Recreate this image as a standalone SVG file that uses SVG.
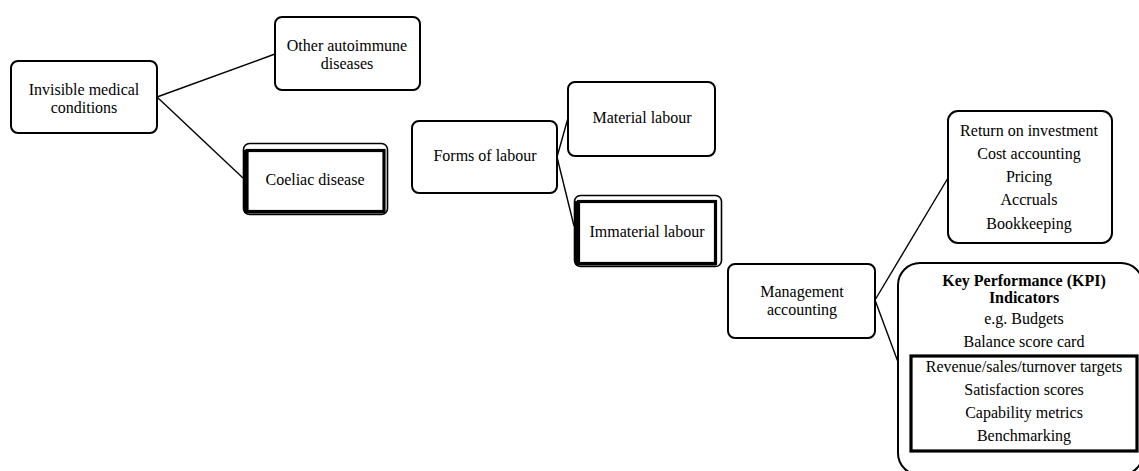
<svg xmlns="http://www.w3.org/2000/svg" width="1139" height="471" viewBox="0 0 1139 471" font-family="Liberation Serif, Times New Roman, serif" font-size="16">
  <style>
    .box { fill: #fff; stroke: #000; stroke-width: 2; }
    .outer { fill: #fff; stroke: #000; stroke-width: 1.6; }
    .inner { fill: none; stroke: #000; stroke-width: 3.2; }
    text { fill: #000; text-anchor: middle; }
    .bold { font-weight: bold; }
    .conn line { stroke: #000; stroke-width: 1.4; }
  </style>

  <!-- connectors -->
  <g id="connectors" class="conn">
    <line x1="157" y1="97" x2="275" y2="54"/>
    <line x1="157" y1="97" x2="243" y2="178"/>
    <line x1="557" y1="157" x2="568" y2="118"/>
    <line x1="557" y1="157" x2="574" y2="226"/>
    <line x1="875" y1="300" x2="948" y2="178"/>
    <line x1="875" y1="300" x2="898" y2="362"/>
  </g>

  <!-- first cluster -->
  <g id="invisible-medical">
    <rect class="box" x="11" y="61" width="146" height="72" rx="7"/>
    <text x="84" y="95">Invisible medical</text>
    <text x="84" y="113">conditions</text>
  </g>
  <g id="other-autoimmune">
    <rect class="box" x="275" y="17" width="145" height="73" rx="7"/>
    <text x="347" y="51">Other autoimmune</text>
    <text x="347" y="69">diseases</text>
  </g>
  <g id="coeliac">
    <rect class="outer" x="243.5" y="143.5" width="144" height="71" rx="6"/>
    <rect class="inner" x="247" y="150.5" width="137" height="61"/>
    <line x1="245.5" y1="150" x2="245.5" y2="213" stroke="#000" stroke-width="3"/>
    <line x1="245" y1="212.5" x2="384" y2="212.5" stroke="#000" stroke-width="2"/>
    <text x="315" y="185">Coeliac disease</text>
  </g>

  <!-- second cluster -->
  <g id="forms-of-labour">
    <rect class="box" x="412" y="121" width="145" height="72" rx="7"/>
    <text x="485" y="161">Forms of labour</text>
  </g>
  <g id="material-labour">
    <rect class="box" x="568" y="82" width="147" height="74" rx="7"/>
    <text x="642" y="123">Material labour</text>
  </g>
  <g id="immaterial-labour">
    <rect class="outer" x="574.5" y="195.5" width="147" height="71" rx="6"/>
    <rect class="inner" x="578.5" y="201.5" width="137" height="62"/>
    <line x1="576.5" y1="201" x2="576.5" y2="265" stroke="#000" stroke-width="3"/>
    <line x1="576" y1="264.5" x2="716" y2="264.5" stroke="#000" stroke-width="2"/>
    <text x="647" y="237">Immaterial labour</text>
  </g>

  <!-- third cluster -->
  <g id="management-accounting">
    <rect class="box" x="728" y="264" width="147" height="74" rx="7"/>
    <text x="802" y="297">Management</text>
    <text x="802" y="315">accounting</text>
  </g>
  <g id="accounting-tasks">
    <rect class="box" x="948" y="111" width="164" height="132" rx="10"/>
    <text x="1029" y="136">Return on investment</text>
    <text x="1029" y="159">Cost accounting</text>
    <text x="1029" y="182">Pricing</text>
    <text x="1029" y="205">Accruals</text>
    <text x="1029" y="229">Bookkeeping</text>
  </g>
  <g id="kpi">
    <rect class="box" x="898" y="263" width="245" height="212" rx="22"/>
    <text class="bold" x="1024" y="286">Key Performance (KPI)</text>
    <text class="bold" x="1024" y="303">Indicators</text>
    <text x="1024" y="324">e.g. Budgets</text>
    <text x="1024" y="347">Balance score card</text>
    <rect class="inner" x="911" y="356" width="226" height="95" stroke-width="3.5"/>
    <text x="1024" y="372">Revenue/sales/turnover targets</text>
    <text x="1024" y="395">Satisfaction scores</text>
    <text x="1024" y="418">Capability metrics</text>
    <text x="1024" y="441">Benchmarking</text>
  </g>
</svg>
